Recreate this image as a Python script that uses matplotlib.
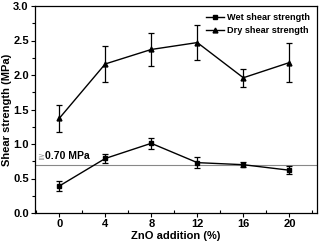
import numpy as np
import matplotlib.pyplot as plt
from matplotlib.ticker import MultipleLocator
from matplotlib.lines import Line2D

plt.rcParams['font.family'] = ['Liberation Sans', 'DejaVu Sans']
plt.rcParams['font.weight'] = 'bold'

# ZnO addition (%)
zno = [0, 4, 8, 12, 16, 20]

# shear strength (MPa)
wet = [0.39, 0.79, 1.01, 0.73, 0.70, 0.62]
wet_err = [0.07, 0.07, 0.08, 0.08, 0.04, 0.06]
dry = [1.37, 2.16, 2.37, 2.47, 1.96, 2.18]
dry_err = [0.19, 0.26, 0.24, 0.25, 0.13, 0.28]

limit = 0.70

fig = plt.figure(figsize=(3.21, 2.44), dpi=100)
ax = fig.add_axes([35/321, 31/244, 282/321, 207/244])

ax.axhline(limit, color='#888888', linewidth=0.8, zorder=1)
ax.errorbar(zno, wet, yerr=wet_err, color='black', marker='s', markersize=3,
            linewidth=1, elinewidth=0.9, capsize=2, capthick=0.9, zorder=3)
ax.errorbar(zno, dry, yerr=dry_err, color='black', marker='^', markersize=3.5,
            linewidth=1, elinewidth=0.9, capsize=2, capthick=0.9, zorder=3)

ax.text(-1.95, 0.76, '≧', fontsize=6, color='#999999', va='bottom', ha='left',
        family=['DejaVu Sans'], fontweight='normal')
ax.text(-1.2, 0.76, '0.70 MPa', fontsize=7.5, va='bottom', ha='left')

ax.set_xlim(-2.1, 22.4)
ax.set_ylim(0, 3.0)
ax.xaxis.set_major_locator(MultipleLocator(4))
ax.xaxis.set_minor_locator(MultipleLocator(2))
ax.yaxis.set_major_locator(MultipleLocator(0.5))
ax.yaxis.set_minor_locator(MultipleLocator(0.25))
ax.yaxis.set_major_formatter(plt.FormatStrFormatter('%.1f'))
ax.tick_params(axis='both', which='major', direction='out', length=3, width=0.8,
               labelsize=8, pad=1.5)
ax.tick_params(axis='x', which='minor', direction='in', length=2, width=0.8)
ax.tick_params(axis='y', which='minor', direction='out', length=2, width=0.8)
for s in ax.spines.values():
    s.set_linewidth(0.9)

ax.set_xlabel('ZnO addition (%)', fontsize=8, fontweight='bold', labelpad=1)
ax.set_ylabel('Shear strength (MPa)', fontsize=8, fontweight='bold', labelpad=1)

handles = [Line2D([], [], color='black', marker='s', markersize=3, linewidth=1),
           Line2D([], [], color='black', marker='^', markersize=3.5, linewidth=1)]
ax.legend(handles, ['Wet shear strength', 'Dry shear strength'], loc='upper right',
          frameon=False, fontsize=6.6, handlelength=2.0, handletextpad=0.3,
          labelspacing=0.5, borderaxespad=0.35)

fig.savefig('out.png', dpi=100)
